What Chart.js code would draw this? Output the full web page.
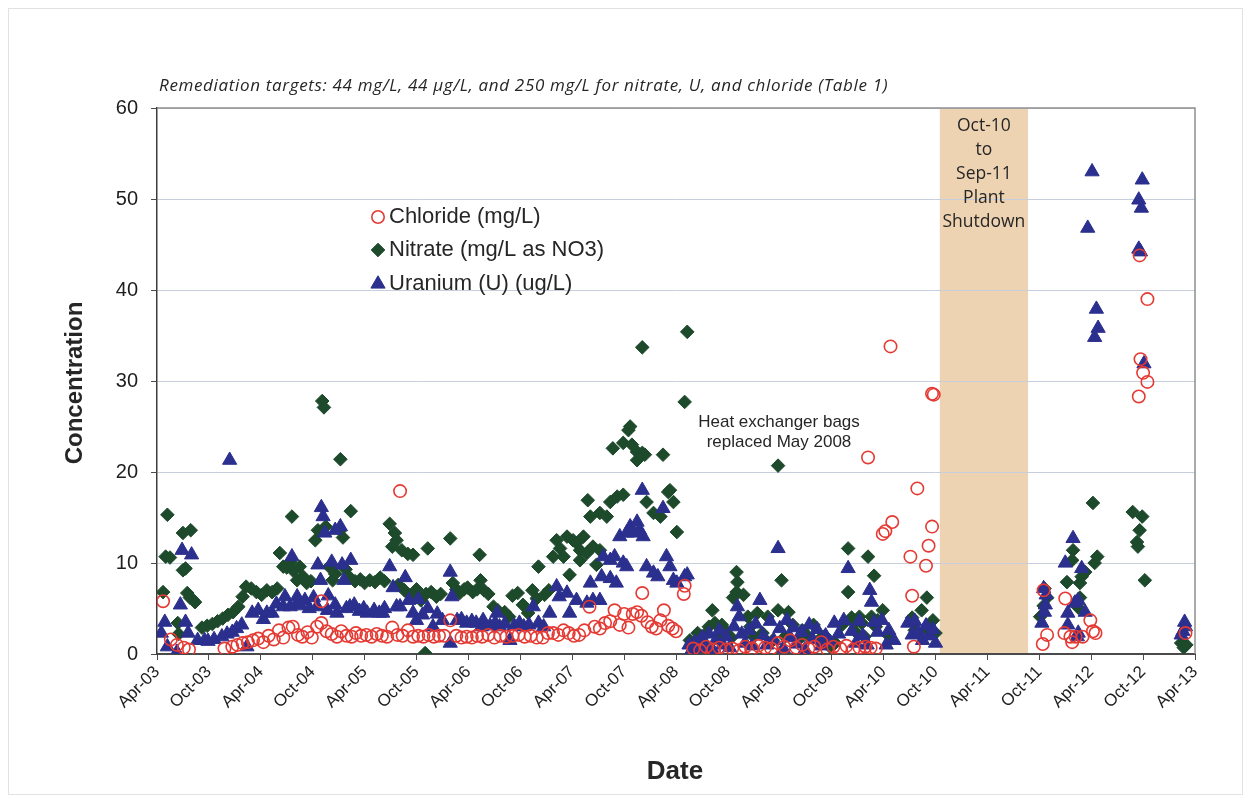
<!DOCTYPE html>
<html>
<head>
<meta charset="utf-8">
<script src="https://cdn.jsdelivr.net/npm/chart.js@4.4.1/dist/chart.umd.min.js"></script>
<style>
  html, body { margin: 0; padding: 0; background: #ffffff; }
  canvas { display: block; }
</style>
</head>
<body>
<canvas id="chart" width="1251" height="803"></canvas>
<script>
// x values are months elapsed since April 2003; y values are concentrations.
const monthTickLabels = [
  'Apr-03', 'Oct-03', 'Apr-04', 'Oct-04', 'Apr-05', 'Oct-05', 'Apr-06', 'Oct-06',
  'Apr-07', 'Oct-07', 'Apr-08', 'Oct-08', 'Apr-09', 'Oct-09', 'Apr-10', 'Oct-10',
  'Apr-11', 'Oct-11', 'Apr-12', 'Oct-12', 'Apr-13'
];

const seriesNames = ['Chloride (mg/L)', 'Nitrate (mg/L as NO3)', 'Uranium (U) (ug/L)'];

// Plant shutdown window (Oct-10 to Sep-11), in months since April 2003
const shutdownWindow = [90.5, 100.7];

const chloride = [
  [0.7,5.8],[1.6,1.6],[2.3,1.0],[3.1,0.7],[3.7,0.5],
  [7.8,0.6],[8.7,0.8],[9.3,1.0],[9.9,1.2],[10.5,1.3],[11.1,1.5],[11.7,1.7],[12.3,1.3],
  [12.9,2.0],[13.5,1.6],[14.1,2.6],[14.6,1.8],[15.2,2.9],[15.7,3.0],[16.3,2.1],[16.8,1.9],
  [17.4,2.4],[17.9,1.8],[18.5,3.0],[19.0,3.4],[19.0,5.8],[19.6,2.5],[20.2,2.2],[20.8,1.9],
  [21.3,2.5],[21.9,2.0],[22.5,1.9],[23.0,2.3],[23.6,2.0],[24.2,2.1],[24.8,1.9],[25.4,2.2],
  [26.0,2.0],[26.6,1.9],[27.2,2.9],[27.8,2.1],[28.1,17.9],[28.4,2.0],[29.0,2.6],[29.6,1.9],
  [30.2,2.0],[30.8,1.9],[31.4,2.1],[32.0,1.9],[32.6,2.0],[33.2,2.0],[33.9,3.7],[34.6,2.0],
  [35.2,1.8],[35.8,1.9],
  [36.4,1.8],[37.0,2.0],[37.6,1.9],[38.3,2.1],[39.0,1.8],[39.7,2.0],[40.4,1.9],[41.1,2.0],
  [41.8,2.1],[42.5,1.9],[43.2,2.0],[43.9,1.8],[44.6,1.8],[45.2,2.3],[45.8,2.3],[46.4,2.1],
  [47.0,2.6],[47.6,2.3],[48.2,2.0],
  [48.8,2.1],[49.4,2.6],[50.0,5.2],[50.6,3.0],[51.2,2.8],[51.8,3.4],[52.4,3.6],[52.9,4.8],
  [53.5,3.2],[54.0,4.4],[54.5,2.9],[55.0,4.4],[55.5,4.6],[56.0,4.2],[56.1,6.7],[56.7,3.5],
  [57.2,3.0],[57.7,2.8],[58.2,3.7],[58.6,4.8],[59.1,3.1],[59.6,2.8],[60.0,2.5],[60.9,6.6],
  [61.0,7.5],
  [62.0,0.6],[62.8,0.4],[63.5,0.8],[64.3,0.5],[65.0,0.7],[65.8,0.5],[66.5,0.6],[67.3,0.4],
  [68.0,0.8],[68.8,0.6],[69.5,0.9],[70.3,0.7],[71.0,0.6],[71.8,1.2],[72.5,0.8],[73.2,1.5],
  [73.9,0.7],[74.6,1.0],[75.3,0.6],[76.0,0.8],[76.8,1.3],[77.5,0.5],[78.2,0.8],[79.0,0.6],
  [79.7,0.9],[80.5,0.5],[81.2,0.7],[81.9,0.8],[82.5,0.7],[83.1,0.6],
  [82.2,21.6],[83.9,13.2],[84.2,13.5],[85.0,14.5],[84.8,33.8],[87.1,10.7],[87.3,6.4],
  [87.5,0.8],[87.9,18.2],[88.9,9.7],[89.2,11.9],[89.6,14.0],[89.8,28.5],[89.6,28.6],
  [102.5,7.0],[102.9,2.1],[102.4,1.1],[105.0,6.1],[104.9,2.3],[105.6,1.9],[106.2,1.9],
  [105.8,1.3],[107.0,1.9],[107.9,3.7],[108.5,2.3],[108.2,2.5],
  [113.6,43.8],[113.7,32.4],[113.5,28.3],[114.0,30.9],[114.5,29.9],[114.5,39.0],
  [118.9,2.3]
];

const nitrate = [
  [0.7,6.8],[1.0,10.7],[1.5,10.6],[1.2,15.3],[2.4,3.4],[2.5,2.2],[3.0,9.2],[3.3,9.4],
  [3.0,13.3],[3.9,13.6],[3.5,6.7],[3.8,6.2],[4.1,6.0],[4.4,5.7],
  [5.2,2.9],[5.8,3.1],[6.4,3.3],[7.0,3.6],[7.6,3.9],[8.2,4.3],[8.8,4.6],[9.4,5.2],
  [9.9,6.3],[10.3,7.4],[10.9,7.2],[11.5,6.8],[12.1,6.5],
  [12.7,7.0],[13.3,6.8],[13.9,7.2],[14.2,11.1],[14.6,9.6],[15.0,9.5],[15.4,10.1],[15.6,15.1],
  [15.8,9.1],[16.2,8.1],[16.5,9.6],[16.9,8.5],[17.3,7.8],[17.8,8.0],[18.3,12.5],[18.6,13.6],
  [19.1,27.8],[19.3,27.1],[19.5,14.0],[19.9,9.6],[20.3,8.1],[20.6,8.8],[21.2,21.4],[21.2,13.6],
  [21.5,12.8],[21.8,9.3],[22.4,15.7],[22.2,8.5],[22.9,8.0],[23.5,8.2],[24.0,7.8],
  [24.6,8.1],[25.2,7.9],[25.8,8.4],[26.3,8.0],[26.9,14.3],[27.5,13.3],[27.7,12.5],[27.2,11.8],
  [27.9,7.6],[28.3,11.4],[28.6,7.0],[29.0,11.0],[29.3,6.4],[29.6,10.9],[30.0,7.1],[30.5,5.9],
  [31.0,0.1],[31.3,11.6],[31.1,6.6],[31.7,6.8],[32.3,6.3],[32.8,6.6],[33.9,12.7],[34.2,7.8],
  [34.6,7.1],[35.0,6.7],[35.5,7.1],[35.9,7.3],[36.5,6.8],[37.0,7.1],
  [37.3,10.9],[37.4,8.1],[37.8,7.0],[38.3,6.6],[38.9,5.2],[39.4,4.8],[40.2,4.6],[40.7,4.1],
  [41.1,6.4],[41.7,6.7],[42.3,5.4],[42.9,4.5],[43.4,7.0],[43.9,6.1],[44.1,9.6],[44.8,6.5],
  [45.3,7.0],[45.8,10.7],[46.2,12.5],[46.6,11.6],[47.0,10.7],[47.4,12.9],[47.7,8.7],
  [48.1,12.5],[48.5,12.2],[48.9,11.4],[48.9,10.3],[49.3,12.9],[49.7,11.1],[49.8,16.9],[50.1,15.1],
  [50.4,11.8],[50.8,9.8],[51.2,11.4],[51.2,15.5],[52.0,15.1],[52.4,16.7],[52.7,22.6],[53.2,17.3],
  [53.9,17.5],[53.9,23.2],[54.7,25.0],[54.5,24.6],[54.9,23.0],[55.5,22.2],[55.5,21.3],[56.1,22.1],
  [56.1,33.7],[56.4,21.9],[56.6,16.7],[57.4,15.5],[58.2,15.1],[58.5,21.9],[59.1,17.8],[59.3,18.0],
  [59.7,16.7],[60.1,13.4],[61.0,27.7],[61.3,35.4],
  [61.6,1.5],[62.0,0.8],[62.5,2.3],[63.0,1.2],[63.5,2.3],[63.8,3.0],[64.2,4.8],[64.5,3.4],
  [65.0,1.6],[65.3,3.2],[65.7,2.6],[66.4,1.8],[67.0,9.0],[67.1,7.9],[67.0,6.8],[66.6,6.2],
  [67.8,6.5],[68.3,4.1],[68.6,3.0],[69.0,1.9],[69.4,4.5],[70.0,2.3],[70.6,4.1],[71.2,1.5],
  [71.8,20.7],[72.2,8.1],[71.8,4.8],[72.6,1.9],[73.0,4.6],[73.5,3.2],[74.1,1.5],[74.6,2.6],
  [75.3,1.9],[75.9,3.2],[76.5,1.5],[77.2,2.0],[77.8,0.8],[78.4,1.2],[79.2,3.2],[79.9,11.6],
  [79.9,6.8],[80.3,4.0],[80.6,3.4],[80.9,2.3],[81.2,4.1],[81.5,3.4],[81.8,1.9],[82.2,10.7],
  [82.6,4.1],[82.9,8.6],[83.1,3.0],[83.3,3.7],[83.9,4.8],[84.5,2.1],
  [87.3,4.0],[87.6,2.6],[88.0,2.3],[88.4,4.8],[89.0,6.2],[89.3,2.5],[89.7,3.7],[90.0,2.3],
  [102.1,4.1],[102.5,5.3],[102.9,6.2],[102.6,7.2],[105.2,7.9],[105.8,10.3],[105.9,11.4],
  [106.7,7.8],[106.7,6.2],[106.5,5.1],[106.9,8.5],[107.3,9.0],[108.2,16.6],[108.4,10.0],
  [108.7,10.7],[112.8,15.6],[113.9,15.1],[113.6,13.6],[113.3,12.3],[113.4,11.8],[114.2,8.1],
  [118.4,1.2],[118.7,0.7],[119.0,1.0]
];

const uranium = [
  [0.5,2.3],[0.9,3.5],[1.2,0.8],[2.3,0.2],[2.7,5.4],[2.9,11.4],[4.0,10.9],[3.3,3.5],
  [3.6,2.3],[4.7,1.5],[5.5,1.5],[5.9,1.4],[6.6,1.6],[7.5,1.9],[8.4,21.3],[8.1,2.2],
  [8.7,2.4],[9.2,2.8],[9.8,3.2],[10.4,0.8],[11.0,4.5],[11.7,4.8],[12.3,3.8],[12.7,4.5],
  [13.3,4.5],[13.8,5.5],
  [14.6,5.2],[14.8,6.3],[15.4,5.2],[15.6,10.7],[16.2,6.3],[16.2,5.6],[16.6,5.3],[17.1,5.9],
  [17.6,5.0],[18.1,6.2],[18.5,5.2],[18.6,9.8],[18.9,8.1],[19.0,16.1],[19.2,15.1],[19.4,13.3],
  [19.7,4.8],[19.8,6.4],[20.2,10.1],[20.6,13.6],[20.6,5.4],[20.8,4.5],[21.2,14.0],[21.4,9.8],
  [21.6,8.1],[21.9,5.0],[22.3,5.2],[22.4,10.3],[22.8,5.4],[23.4,4.7],[23.9,5.0],
  [24.3,4.5],[25.1,4.8],[25.7,4.5],[26.1,4.5],[26.3,5.0],[26.9,9.6],[27.3,7.3],[27.7,5.2],
  [28.1,5.2],[28.7,8.4],[29.1,5.9],[29.6,4.5],[30.0,3.7],[30.2,6.0],[30.7,4.3],[31.3,5.0],
  [31.9,3.0],[32.4,4.4],[33.0,3.7],[33.9,9.0],[34.1,6.3],[33.9,1.2],[34.7,3.7],[35.2,3.8],
  [35.8,3.4],[36.4,3.6],
  [36.9,3.4],[37.5,3.0],[37.7,3.7],[38.5,3.1],[39.1,3.4],[39.3,4.5],[39.6,3.0],[40.2,3.3],
  [40.8,1.5],[41.3,3.1],[41.9,3.4],[42.4,3.0],[43.0,3.2],[43.5,5.2],[44.1,3.4],[44.7,3.0],
  [45.4,4.5],[46.2,7.4],[46.5,6.3],[47.4,6.7],[47.7,4.5],[48.5,5.9],[49.7,5.6],[50.1,7.8],
  [50.4,5.9],[51.2,5.9],[51.4,8.5],[51.6,10.7],[52.4,8.3],[52.4,10.3],[52.9,10.7],[53.1,7.8],
  [53.5,12.9],[53.9,10.0],[54.3,9.6],[54.3,13.3],[54.7,14.0],[55.1,13.3],[55.5,14.5],[55.8,13.6],
  [56.1,18.0],[56.2,12.9],[56.6,9.6],[57.4,8.9],[57.9,8.5],[58.5,16.0],[58.9,10.7],[59.3,9.6],
  [59.7,8.1],[60.1,7.8],[61.0,8.5],
  [61.3,8.7],[61.5,1.0],[61.8,0.4],[62.2,1.3],[62.6,0.6],[63.0,1.8],[63.4,0.8],[63.8,2.2],
  [64.2,0.5],[64.6,1.5],[65.0,2.6],[65.4,1.0],[65.8,1.9],[66.2,0.7],[66.7,3.0],[67.1,5.2],
  [67.3,4.1],[67.6,2.2],[68.0,1.2],[68.4,2.6],[68.8,0.9],[69.2,3.3],[69.7,5.9],[70.1,2.0],
  [70.5,1.0],[70.9,3.6],[71.3,1.5],[71.8,11.6],[72.0,2.8],[72.4,0.6],[72.8,3.7],[73.2,1.8],
  [73.6,2.9],[74.0,1.1],[74.5,2.4],[74.9,0.5],[75.4,3.2],[75.8,1.6],[76.3,2.7],[76.8,0.9],
  [77.3,2.0],[77.8,1.3],[78.3,3.4],[78.8,2.2],[79.4,3.7],[79.9,9.4],[80.3,2.5],[80.8,1.2],
  [81.2,3.6],[81.6,2.0],[82.1,1.0],[82.4,7.0],[82.6,5.7],[82.9,3.5],[83.3,2.4],[83.8,3.7],
  [84.3,1.0],[84.6,2.6],[85.2,1.5],[86.8,3.4],[87.3,2.1],[87.6,3.6],[88.0,2.4],[88.5,1.5],
  [88.9,3.1],[89.3,2.0],[89.7,2.7],[90.0,1.2],
  [102.3,3.4],[102.6,4.6],[102.7,5.4],[102.8,6.5],[102.5,7.2],[105.0,10.0],[105.9,12.7],
  [106.9,9.4],[106.1,5.6],[106.5,5.9],[105.3,4.5],[107.3,4.6],[105.3,3.2],[106.5,2.3],
  [106.4,1.9],[107.6,46.8],[108.1,53.0],[108.6,37.9],[108.8,35.8],[108.4,34.8],
  [113.5,49.9],[113.8,49.0],[113.9,52.1],[113.7,44.2],[113.5,44.5],[114.1,31.9],
  [118.8,3.5],[118.6,2.5],[118.4,2.1],[118.9,3.0]
];

const toPoints = pairs => pairs.map(([x, y]) => ({ x, y }));

const SANS = '"Liberation Sans", Arial, sans-serif';
const HUMANIST = '"Open Sans", "Noto Sans", sans-serif';

const markerStyles = [
  { pointStyle: 'circle',   radius: 6.2, border: '#e53a33', fill: 'rgba(0,0,0,0)', width: 1.6 },
  { pointStyle: 'rectRot',  radius: 6.8, border: '#1e4a2c', fill: '#1e4a2c',        width: 1 },
  { pointStyle: 'triangle', radius: 8.2, border: '#2b2f8e', fill: '#2b2f8e',        width: 1 }
];

function drawMarker(ctx, m, x, y) {
  ctx.save();
  ctx.beginPath();
  const r = m.radius;
  if (m.pointStyle === 'circle') {
    ctx.arc(x, y, r, 0, Math.PI * 2);
  } else if (m.pointStyle === 'rectRot') {
    ctx.moveTo(x - r, y); ctx.lineTo(x, y - r); ctx.lineTo(x + r, y); ctx.lineTo(x, y + r);
    ctx.closePath();
  } else {
    const s = Math.sin(2 * Math.PI / 3) * r;
    ctx.moveTo(x, y - r); ctx.lineTo(x + s, y + r / 2); ctx.lineTo(x - s, y + r / 2);
    ctx.closePath();
  }
  ctx.fillStyle = m.fill;
  ctx.fill();
  ctx.lineWidth = m.width;
  ctx.strokeStyle = m.border;
  ctx.stroke();
  ctx.restore();
}

const decorations = {
  id: 'decorations',
  beforeDraw(chart) {
    const { ctx, chartArea: a, scales: { x } } = chart;
    ctx.save();
    ctx.fillStyle = '#ffffff';
    ctx.fillRect(0, 0, chart.width, chart.height);
    ctx.strokeStyle = '#e2e2e2';
    ctx.lineWidth = 1;
    ctx.strokeRect(8.5, 8.5, chart.width - 17, chart.height - 17);
    // shutdown period band
    const x0 = x.getPixelForValue(shutdownWindow[0]);
    const x1 = x.getPixelForValue(shutdownWindow[1]);
    ctx.fillStyle = '#eed3b2';
    ctx.fillRect(x0, a.top, x1 - x0, a.bottom - a.top);
    ctx.restore();
  },
  beforeDatasetsDraw(chart) {
    const { ctx, chartArea: a } = chart;
    ctx.save();
    ctx.strokeStyle = '#8f8f8f';
    ctx.lineWidth = 1.5;
    ctx.beginPath();
    ctx.moveTo(a.left, a.top);
    ctx.lineTo(a.right, a.top);
    ctx.lineTo(a.right, a.bottom);
    ctx.stroke();
    ctx.restore();
  },
  afterDraw(chart) {
    const { ctx, scales: { x } } = chart;
    ctx.save();
    ctx.fillStyle = '#262626';

    // subtitle line
    ctx.font = 'italic 17px ' + HUMANIST;
    ctx.letterSpacing = '0.66px';
    ctx.textAlign = 'left';
    ctx.textBaseline = 'middle';
    ctx.fillText('Remediation targets: 44 mg/L, 44 \u00b5g/L, and 250 mg/L for nitrate, U, and chloride (Table 1)', 159, 86);
    ctx.letterSpacing = '0px';

    // axis titles
    ctx.font = 'bold 24px ' + SANS;
    ctx.textAlign = 'center';
    ctx.save();
    ctx.translate(75, 383);
    ctx.rotate(-Math.PI / 2);
    ctx.fillText('Concentration', 0, 0);
    ctx.restore();
    ctx.font = 'bold 26px ' + SANS;
    ctx.fillText('Date', 675, 772);

    // legend
    ctx.font = '22px ' + SANS;
    ctx.textAlign = 'left';
    const rows = [217, 250, 284];
    seriesNames.forEach((name, i) => {
      drawMarker(ctx, markerStyles[i], 378, rows[i]);
      ctx.fillStyle = '#262626';
      ctx.fillText(name, 389, rows[i]);
    });

    // heat exchanger note
    ctx.font = '17px ' + SANS;
    ctx.textAlign = 'center';
    ctx.fillText('Heat exchanger bags', 779, 422);
    ctx.fillText('replaced May 2008', 779, 442);

    // shutdown note
    const cx = (x.getPixelForValue(shutdownWindow[0]) + x.getPixelForValue(shutdownWindow[1])) / 2;
    ctx.font = '17.5px ' + HUMANIST;
    ['Oct-10', 'to', 'Sep-11', 'Plant', 'Shutdown'].forEach((t, i) => {
      ctx.fillText(t, cx, 126 + i * 24);
    });
    ctx.restore();
  }
};

const datasets = [chloride, nitrate, uranium].map((pairs, i) => ({
  label: seriesNames[i],
  data: toPoints(pairs),
  pointStyle: markerStyles[i].pointStyle,
  pointRadius: markerStyles[i].radius,
  pointHoverRadius: markerStyles[i].radius,
  pointBorderWidth: markerStyles[i].width,
  borderColor: markerStyles[i].border,
  backgroundColor: markerStyles[i].fill,
  showLine: false,
  order: [0, 2, 1][i]
}));

new Chart(document.getElementById('chart'), {
  type: 'scatter',
  data: { datasets },
  options: {
    responsive: false,
    animation: false,
    devicePixelRatio: 1,
    layout: { padding: { left: 0, top: 108, right: 56, bottom: 0 } },
    plugins: {
      legend: { display: false },
      tooltip: { enabled: false }
    },
    scales: {
      x: {
        type: 'linear',
        min: 0,
        max: 120,
        afterFit(scale) { scale.height = 149; },
        border: { display: true, color: '#4a4a4a', width: 2 },
        grid: { display: true, drawOnChartArea: false, drawTicks: true, tickLength: 6, tickColor: '#4a4a4a' },
        ticks: {
          stepSize: 6,
          autoSkip: false,
          minRotation: 45,
          maxRotation: 45,
          padding: 2,
          color: '#1e1e1e',
          font: { family: SANS, size: 17 },
          callback: v => monthTickLabels[Math.round(v / 6)]
        }
      },
      y: {
        min: 0,
        max: 60,
        afterFit(scale) { scale.width = 157; },
        border: { display: true, color: '#3c3c3c', width: 1.5 },
        grid: {
          color: '#c6cfdb',
          lineWidth: 1,
          drawTicks: true,
          tickLength: 6,
          tickColor: '#4a4a4a'
        },
        ticks: {
          stepSize: 10,
          padding: 13,
          color: '#1e1e1e',
          font: { family: SANS, size: 20 }
        }
      }
    }
  },
  plugins: [decorations]
});
</script>
</body>
</html>
